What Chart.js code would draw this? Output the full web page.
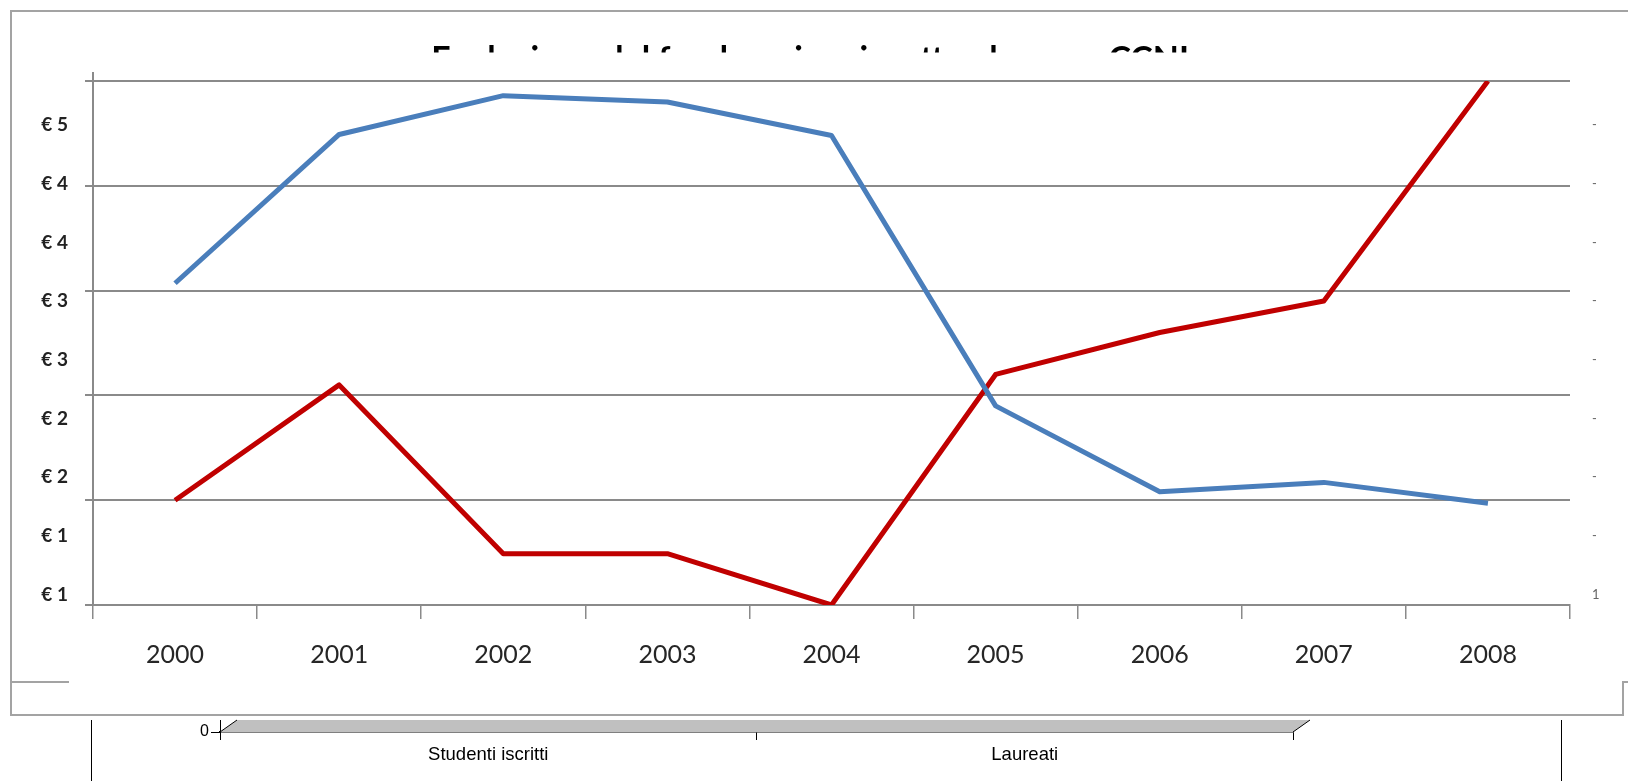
<!DOCTYPE html>
<html><head><meta charset="utf-8">
<script src="https://cdn.jsdelivr.net/npm/chart.js@4.4.1/dist/chart.umd.min.js"></script>
<style>
html,body{margin:0;padding:0;background:#fff;}
body{width:1628px;height:781px;position:relative;overflow:hidden;font-family:Lato,sans-serif;}
canvas{position:absolute;left:0;}
#main{top:0;}
#sub{top:716px;}
.ln{position:absolute;background:#a3a3a3;}
.bk{position:absolute;background:#000;}
</style></head><body>
<canvas id="main" width="1628" height="680"></canvas>
<canvas id="sub" width="1628" height="65"></canvas>
<div class="ln" style="left:11px;top:10px;width:1617px;height:2px"></div>
<div class="ln" style="left:10px;top:10px;width:2px;height:706px"></div>
<div class="ln" style="left:10px;top:681px;width:59px;height:2px"></div>
<div class="ln" style="left:10px;top:714px;width:1614px;height:2px"></div>
<div class="ln" style="left:1622px;top:681px;width:2px;height:35px"></div>
<div class="ln" style="left:1622px;top:681px;width:6px;height:2px"></div>
<div class="bk" style="left:91px;top:720px;width:1px;height:61px"></div>
<div class="bk" style="left:1561px;top:720px;width:1px;height:61px"></div>
<script>
// ---- data ----
const years = ['2000','2001','2002','2003','2004','2005','2006','2007','2008'];
const seriesBlue = [3.07, 4.49, 4.86, 4.80, 4.48, 1.90, 1.08, 1.17, 0.97];
const seriesRed  = [1.00, 2.10, 0.49, 0.49, 0.00, 2.20, 2.60, 2.90, 5.00];
const gridValues = [0, 1, 2, 3, 4, 5];
const labelTickValues = [0.10, 0.66, 1.22, 1.78, 2.34, 2.90, 3.46, 4.02, 4.58];
const leftTickLabels  = ['€ 1','€ 1','€ 2','€ 2','€ 3','€ 3','€ 4','€ 4','€ 5'];
const rightTickLabels = ['1','-','-','-','-','-','-','-','-'];
const titleText = 'Evoluzione del fondo unico rispetto al nuovo CCNL';
const subCategories = ['Studenti iscritti','Laureati'];
const subValues = [0, 0];
const subTicks = [0];

const GRID = '#8a8a8a';

const decor = {
  id: 'decor',
  beforeDatasetsDraw(chart) {
    const ctx = chart.ctx, a = chart.chartArea;
    ctx.save();
    ctx.fillStyle = '#fff';
    ctx.fillRect(300, 52.5, 1100, a.top - 53.5);
    ctx.strokeStyle = GRID; ctx.lineWidth = 2;
    ctx.beginPath(); ctx.moveTo(a.left, a.top - 9); ctx.lineTo(a.left, a.top); ctx.stroke();
    ctx.restore();
  }
};

new Chart(document.getElementById('main'), {
  type: 'line',
  data: {
    labels: years,
    datasets: [
      {label: 'A', data: seriesBlue, borderColor: '#4a7ebb', borderWidth: 5, pointRadius: 0, tension: 0, borderJoinStyle: 'round'},
      {label: 'B', data: seriesRed, borderColor: '#c00000', borderWidth: 5, pointRadius: 0, tension: 0, borderJoinStyle: 'round'}
    ]
  },
  options: {
    responsive: false, animation: false, devicePixelRatio: 1,
    layout: {padding: 0},
    plugins: {
      legend: {display: false}, tooltip: {enabled: false},
      title: {display: true, text: titleText, color: '#000',
        font: {family: 'Lato', size: 34, weight: 'bold'}, padding: {top: 39.6, bottom: 0.6}}
    },
    scales: {
      x: {
        offset: true,
        grid: {display: true, drawOnChartArea: false, offset: true, color: GRID, lineWidth: 1.5, tickLength: 14},
        border: {display: true, color: GRID, width: 2},
        ticks: {font: {family: 'Lato', size: 25}, color: '#262626', padding: 21, maxRotation: 0, autoSkip: false},
        afterFit: s => { s.height = 75; s.paddingLeft = 0; s.paddingRight = 0; }
      },
      y: {
        min: 0, max: 5,
        afterBuildTicks: s => { s.ticks = gridValues.concat(labelTickValues).map(v => ({value: v})); },
        grid: {color: c => gridValues.includes(c.tick.value) ? GRID : 'rgba(0,0,0,0)', lineWidth: 2, tickLength: 8},
        border: {display: true, color: GRID, width: 2},
        ticks: {autoSkip: false, font: {family: 'Lato', size: 19, weight: 'bold'}, color: '#222', padding: 17,
          callback: (v) => { const i = labelTickValues.indexOf(v); return i >= 0 ? leftTickLabels[i] : ''; }},
        afterFit: s => { s.width = 93; s.paddingTop = 0; s.paddingBottom = 0; }
      },
      y2: {
        position: 'right', min: 0, max: 5,
        afterBuildTicks: s => { s.ticks = labelTickValues.map(v => ({value: v})); },
        grid: {display: false, drawTicks: false},
        border: {display: false},
        ticks: {autoSkip: false, font: {family: 'Lato', size: 13}, color: '#666', padding: 22,
          callback: (v) => { const i = labelTickValues.indexOf(v); return i >= 0 ? rightTickLabels[i] : ''; }},
        afterFit: s => { s.width = 58; s.paddingTop = 0; s.paddingBottom = 0; }
      }
    }
  },
  plugins: [decor]
});

const floor3d = {
  id: 'floor3d',
  beforeDatasetsDraw(chart) {
    const ctx = chart.ctx, a = chart.chartArea, d = 17;
    ctx.save();
    ctx.fillStyle = '#c0c0c0';
    ctx.beginPath();
    ctx.moveTo(a.left, a.bottom); ctx.lineTo(a.left + d, a.top);
    ctx.lineTo(a.right + d, a.top); ctx.lineTo(a.right, a.bottom); ctx.closePath();
    ctx.fill();
    ctx.strokeStyle = '#000'; ctx.lineWidth = 1;
    ctx.beginPath();
    ctx.moveTo(a.left, a.bottom); ctx.lineTo(a.left + d, a.top);
    ctx.moveTo(a.right, a.bottom); ctx.lineTo(a.right + d, a.top);
    ctx.stroke();
    ctx.restore();
  }
};

new Chart(document.getElementById('sub'), {
  type: 'bar',
  data: {labels: subCategories, datasets: [{data: subValues, backgroundColor: '#9999ff', borderWidth: 0}]},
  options: {
    responsive: false, animation: false, devicePixelRatio: 1,
    layout: {padding: {top: 4, right: 335, left: 0, bottom: 0}},
    plugins: {legend: {display: false}, tooltip: {enabled: false}, title: {display: false}},
    scales: {
      x: {
        grid: {display: true, drawOnChartArea: false, offset: true, color: '#000', lineWidth: 1, tickLength: 8},
        border: {display: true, color: '#000', width: 1.5},
        ticks: {font: {family: 'Liberation Sans', size: 18.5}, color: '#000', padding: 4},
        afterFit: s => { s.height = 49; s.paddingLeft = 0; s.paddingRight = 0; }
      },
      y: {
        min: 0, max: 1,
        afterBuildTicks: s => { s.ticks = subTicks.map(v => ({value: v})); },
        grid: {drawOnChartArea: false, color: '#000', lineWidth: 1, tickLength: 9},
        border: {display: true, color: '#000', width: 1},
        ticks: {font: {family: 'Liberation Sans', size: 16}, color: '#000', padding: 2},
        afterFit: s => { s.width = 220; s.paddingTop = 0; s.paddingBottom = 0; }
      }
    }
  },
  plugins: [floor3d]
});
</script>
</body></html>
